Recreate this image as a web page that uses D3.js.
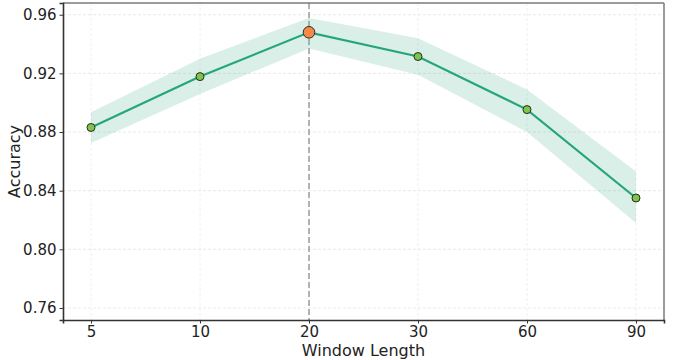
<!DOCTYPE html>
<html>
<head>
<meta charset="utf-8">
<script src="https://cdn.jsdelivr.net/npm/d3@7"></script>
<style>
  body { margin: 0; background: #fff; }
  text { font-family: "DejaVu Sans", sans-serif; fill: #222; }
</style>
</head>
<body>
<div class="chart"></div>
<script>
// data
const windows = ["5", "10", "20", "30", "60", "90"];
const accuracy = [0.8831, 0.9178, 0.948, 0.9315, 0.8953, 0.835];
const upper = [0.8935, 0.9300, 0.9578, 0.9440, 0.9090, 0.8530];
const lower = [0.8725, 0.9060, 0.9370, 0.9190, 0.8800, 0.8180];
const yTicks = [0.76, 0.80, 0.84, 0.88, 0.92, 0.96];
const best = "20";

const width = 677, height = 360;
const margin = {top: 3, right: 13, bottom: 40, left: 63};

const svg = d3.select(".chart").append("svg")
    .attr("width", width)
    .attr("height", height);

const x = d3.scalePoint()
    .domain(windows)
    .range([margin.left, width - margin.right])
    .padding(0.257);

const y = d3.scaleLinear()
    .domain([0.7518, 0.968])
    .range([height - margin.bottom, margin.top]);

const rows = windows.map((w, i) => ({w, acc: accuracy[i], hi: upper[i], lo: lower[i]}));

// grid
svg.append("g")
    .selectAll("line")
    .data(yTicks)
    .join("line")
    .attr("x1", margin.left).attr("x2", width - margin.right)
    .attr("y1", d => y(d)).attr("y2", d => y(d))
    .attr("stroke", "#e3e3e3")
    .attr("stroke-dasharray", "3,2")
    .attr("stroke-width", 0.8);

svg.append("g")
    .selectAll("line")
    .data(windows)
    .join("line")
    .attr("x1", d => x(d)).attr("x2", d => x(d))
    .attr("y1", margin.top).attr("y2", height - margin.bottom)
    .attr("stroke", "#ececec")
    .attr("stroke-dasharray", "3,2")
    .attr("stroke-width", 0.8);

// confidence band
const area = d3.area()
    .x(d => x(d.w))
    .y0(d => y(d.lo))
    .y1(d => y(d.hi));

svg.append("path")
    .datum(rows)
    .attr("d", area)
    .attr("fill", "#2aa97c")
    .attr("fill-opacity", 0.18);

// best window marker
svg.append("line")
    .attr("x1", x(best)).attr("x2", x(best))
    .attr("y1", margin.top).attr("y2", height - margin.bottom)
    .attr("stroke", "#9a9a9a")
    .attr("stroke-width", 1.5)
    .attr("stroke-dasharray", "6,3");

// line
const line = d3.line()
    .x(d => x(d.w))
    .y(d => y(d.acc));

svg.append("path")
    .datum(rows)
    .attr("d", line)
    .attr("fill", "none")
    .attr("stroke", "#25a67a")
    .attr("stroke-width", 2.2);

// points
svg.append("g")
    .selectAll("circle")
    .data(rows)
    .join("circle")
    .attr("cx", d => x(d.w))
    .attr("cy", d => y(d.acc))
    .attr("r", d => d.w === best ? 5.8 : 4)
    .attr("fill", d => d.w === best ? "#f5894a" : "#7cc44f")
    .attr("stroke", "#2b2b1a")
    .attr("stroke-width", 1);

// frame: top/right grey, left/bottom dark
svg.append("line")
    .attr("x1", margin.left).attr("x2", width - margin.right)
    .attr("y1", margin.top).attr("y2", margin.top)
    .attr("stroke", "#7a7a7a").attr("stroke-width", 1.5);
svg.append("line")
    .attr("x1", width - margin.right).attr("x2", width - margin.right)
    .attr("y1", margin.top).attr("y2", height - margin.bottom)
    .attr("stroke", "#7a7a7a").attr("stroke-width", 1.5);

// axes
const xAxis = svg.append("g")
    .attr("transform", `translate(0,${height - margin.bottom})`)
    .call(d3.axisBottom(x).tickSize(3.5).tickPadding(3));

const yAxis = svg.append("g")
    .attr("transform", `translate(${margin.left},0)`)
    .call(d3.axisLeft(y).tickValues(yTicks).tickFormat(d3.format(".2f")).tickSize(3.5).tickPadding(3));

[xAxis, yAxis].forEach(a => {
    a.select(".domain").attr("stroke", "#333").attr("stroke-width", 1.6);
    a.selectAll(".tick line").attr("stroke", "#333");
    a.selectAll(".tick text")
        .attr("font-family", "DejaVu Sans, sans-serif")
        .attr("font-size", 15)
        .attr("fill", "#222");
});

// labels
svg.append("text")
    .attr("x", (margin.left + width - margin.right) / 2)
    .attr("y", height - 4)
    .attr("text-anchor", "middle")
    .attr("font-size", 16)
    .text("Window Length");

svg.append("text")
    .attr("transform", `translate(20,${(margin.top + height - margin.bottom) / 2}) rotate(-90)`)
    .attr("text-anchor", "middle")
    .attr("font-size", 16)
    .text("Accuracy");
</script>
</body>
</html>
